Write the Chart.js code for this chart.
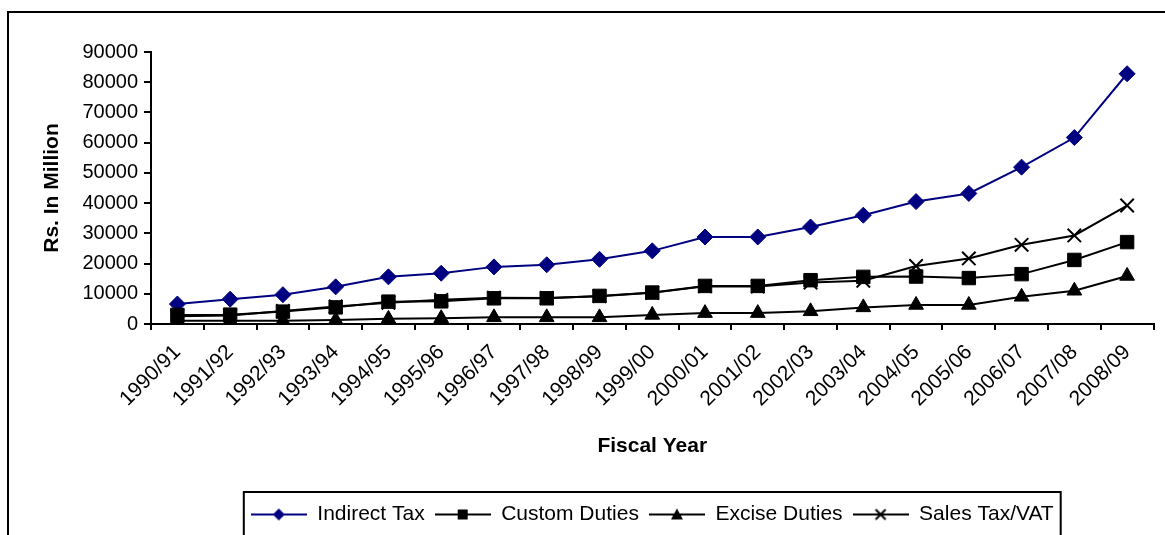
<!DOCTYPE html>
<html>
<head>
<meta charset="utf-8">
<script src="https://cdn.jsdelivr.net/npm/chart.js@4/dist/chart.umd.min.js"></script>
<style>
  body { margin: 0; background: #fff; }
  canvas { display: block; }
</style>
</head>
<body>
<canvas id="grafica" width="1165" height="535"></canvas>
<script>
// datos (Rs. millones)
const years = ['1990/91', '1991/92', '1992/93', '1993/94', '1994/95', '1995/96', '1996/97',
  '1997/98', '1998/99', '1999/00', '2000/01', '2001/02', '2002/03', '2003/04', '2004/05',
  '2005/06', '2006/07', '2007/08', '2008/09'];
const indirectTax = [6600, 8200, 9700, 12300, 15600, 16800, 18900, 19600, 21400, 24200,
  28800, 28800, 32100, 36000, 40500, 43200, 51900, 61700, 82800];
const customDuties = [3000, 3100, 4100, 5500, 7400, 7500, 8500, 8500, 9300, 10400,
  12600, 12600, 14500, 15600, 15700, 15200, 16500, 21200, 27100];
const exciseDuties = [1100, 1100, 1100, 1300, 1700, 1900, 2200, 2200, 2200, 3000,
  3600, 3600, 4200, 5500, 6300, 6300, 9000, 11000, 15900];
const salesTax = [2600, 2800, 4300, 5800, 7000, 8000, 8700, 8600, 9200, 10300,
  12500, 12400, 13700, 14300, 19200, 21700, 26200, 29300, 39200];
const seriesNames = ['Indirect Tax', 'Custom Duties', 'Excise Duties', 'Sales Tax/VAT'];

const NAVY = '#000080';
const FONT = "'Liberation Sans', Arial, sans-serif";
Chart.defaults.color = '#000';
Chart.defaults.font.family = FONT;

// icono de leyenda estilo Excel: linea con marcador al centro
function iconoLeyenda(color, forma) {
  const c = document.createElement('canvas');
  c.width = 56; c.height = 16;
  const g = c.getContext('2d');
  g.strokeStyle = color; g.fillStyle = color; g.lineWidth = 2;
  g.beginPath(); g.moveTo(0, 8); g.lineTo(56, 8); g.stroke();
  const x = 28, y = 8;
  g.beginPath();
  if (forma === 'diamond') {
    g.moveTo(x, y - 6); g.lineTo(x + 6, y); g.lineTo(x, y + 6); g.lineTo(x - 6, y); g.closePath(); g.fill();
  } else if (forma === 'square') {
    g.fillRect(x - 5, y - 5, 10, 10);
  } else if (forma === 'triangle') {
    g.moveTo(x, y - 6); g.lineTo(x + 6, y + 5); g.lineTo(x - 6, y + 5); g.closePath(); g.fill();
  } else {
    g.moveTo(x - 5, y - 5); g.lineTo(x + 5, y + 5); g.moveTo(x + 5, y - 5); g.lineTo(x - 5, y + 5); g.stroke();
  }
  return c;
}
const iconos = [
  iconoLeyenda(NAVY, 'diamond'),
  iconoLeyenda('#000', 'square'),
  iconoLeyenda('#000', 'triangle'),
  iconoLeyenda('#000', 'cross')
];

// marco exterior y caja de la leyenda
const marcos = {
  id: 'marcos',
  afterDraw(chart) {
    const ctx = chart.ctx;
    ctx.save();
    ctx.strokeStyle = '#000';
    ctx.lineWidth = 2;
    ctx.strokeRect(8, 12, 1170, 540);
    const hb = chart.legend.legendHitBoxes;
    if (hb && hb.length) {
      const left = Math.min(...hb.map(h => h.left)) - 7;
      const right = Math.max(...hb.map(h => h.left + h.width)) + 7;
      const top = hb[0].top - 12;
      ctx.strokeRect(left, top, right - left, 80);
    }
    ctx.restore();
  }
};

const ctx = document.getElementById('grafica').getContext('2d');
new Chart(ctx, {
  type: 'line',
  data: {
    labels: years,
    datasets: [{
      label: seriesNames[0],
      data: indirectTax,
      borderColor: NAVY,
      backgroundColor: NAVY,
      pointStyle: 'rectRot',
      pointRadius: 8,
      order: 3
    }, {
      label: seriesNames[1],
      data: customDuties,
      borderColor: '#000',
      backgroundColor: '#000',
      pointStyle: 'rect',
      pointRadius: 9.5,
      order: 2
    }, {
      label: seriesNames[2],
      data: exciseDuties,
      borderColor: '#000',
      backgroundColor: '#000',
      pointStyle: 'triangle',
      pointRadius: 8.5,
      order: 1
    }, {
      label: seriesNames[3],
      data: salesTax,
      borderColor: '#000',
      backgroundColor: '#000',
      pointStyle: 'crossRot',
      pointRadius: 9.5,
      pointBorderWidth: 2,
      order: 0
    }]
  },
  options: {
    responsive: false,
    animation: false,
    layout: { padding: { left: 30, right: 7, top: 52, bottom: 0 } },
    elements: {
      line: { borderWidth: 2, tension: 0 },
      point: { hoverRadius: 9 }
    },
    plugins: {
      tooltip: { enabled: false },
      legend: {
        position: 'bottom',
        fullSize: false,
        labels: {
          usePointStyle: true,
          pointStyleWidth: 56,
          padding: 10,
          font: { size: 21 },
          generateLabels(chart) {
            return chart.data.datasets.map((ds, i) => ({
              text: ds.label,
              datasetIndex: i,
              pointStyle: iconos[i],
              fillStyle: ds.borderColor,
              strokeStyle: ds.borderColor,
              lineWidth: 0,
              fontColor: '#000',
              hidden: false
            }));
          }
        }
      }
    },
    scales: {
      x: {
        offset: true,
        grid: { offset: true, drawOnChartArea: false, drawTicks: true, tickLength: 6, color: '#000', lineWidth: 2 },
        border: { color: '#000', width: 2 },
        ticks: { maxRotation: 45, minRotation: 45, autoSkip: false, font: { size: 21 }, padding: 10 },
        title: {
          display: true,
          text: 'Fiscal Year',
          font: { size: 21, weight: 'bold' },
          padding: { top: 4, bottom: 35 }
        },
        afterFit(scale) { scale.height = 170; }
      },
      y: {
        min: 0,
        max: 90000,
        ticks: {
          stepSize: 10000,
          font: { size: 20 },
          padding: 6,
          callback: v => String(v)
        },
        grid: { drawOnChartArea: false, drawTicks: true, tickLength: 7, color: '#000', lineWidth: 2 },
        border: { color: '#000', width: 2 },
        title: {
          display: true,
          text: 'Rs. In Million',
          font: { size: 21, weight: 'bold' },
          padding: { top: 10, bottom: 6 }
        },
        afterFit(scale) { scale.width = 121; }
      }
    }
  },
  plugins: [marcos]
});
</script>
</body>
</html>
